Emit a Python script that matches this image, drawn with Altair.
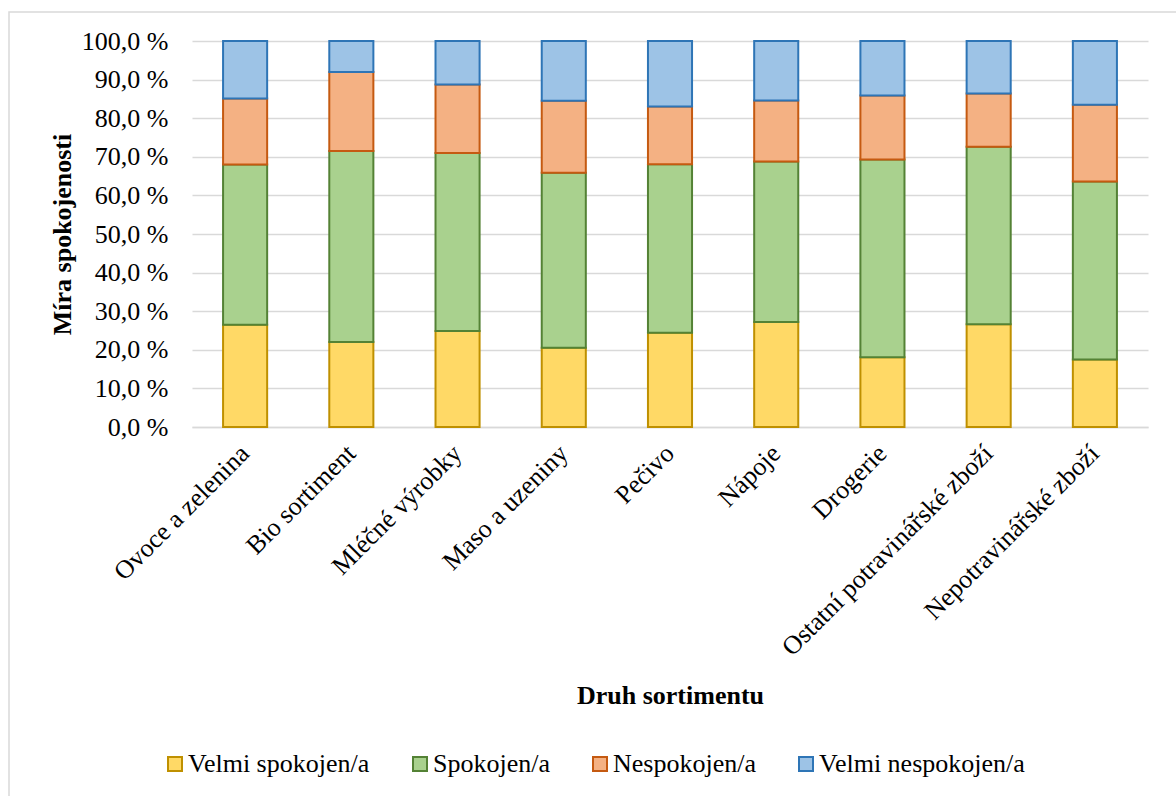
import altair as alt
import pandas as pd

categories = ["Ovoce a zelenina", "Bio sortiment", "Mléčné výrobky", "Maso a uzeniny",
              "Pečivo", "Nápoje", "Drogerie", "Ostatní potravinářské zboží",
              "Nepotravinářské zboží"]
series = ["Velmi spokojen/a", "Spokojen/a", "Nespokojen/a", "Velmi nespokojen/a"]
velmi_spokojen = [26.5, 22.0, 24.9, 20.5, 24.4, 27.2, 18.1, 26.6, 17.5]
spokojen = [41.5, 49.5, 46.1, 45.4, 43.7, 41.6, 51.2, 46.0, 46.1]
nespokojen = [17.1, 20.5, 17.7, 18.6, 14.9, 15.8, 16.6, 13.8, 19.9]
velmi_nespokojen = [14.9, 8.0, 11.3, 15.5, 17.0, 15.4, 14.1, 13.6, 16.5]

fills = ["#FFD966", "#A9D18E", "#F4B183", "#9DC3E6"]
strokes = ["#BF9000", "#548235", "#C55A11", "#2E75B6"]

rows = []
for si, (name, vals) in enumerate(zip(series, [velmi_spokojen, spokojen, nespokojen, velmi_nespokojen])):
    for c, v in zip(categories, vals):
        rows.append({"Druh": c, "Kat": name, "Hodnota": v, "idx": si})
df = pd.DataFrame(rows)

FONT = "'Liberation Serif', 'Times New Roman', 'DejaVu Serif', serif"
W, H = 956, 386

bars = alt.Chart(df).mark_bar(strokeWidth=2).encode(
    x=alt.X("Druh:N", sort=categories,
            scale=alt.Scale(paddingInner=0.585, paddingOuter=0.2925),
            axis=alt.Axis(title="Druh sortimentu", labelAngle=315, labelAlign="right",
                          labelBaseline="middle", labelPadding=22, ticks=False,
                          domainColor="#D9D9D9", domainWidth=1.5,
                          labelFont=FONT, labelFontSize=26, labelColor="black",
                          titleFont=FONT, titleFontSize=26, titleFontWeight="bold",
                          titleColor="black", titleY=268, titleBaseline="middle",
                          labelLimit=0)),
    y=alt.Y("Hodnota:Q", stack="normalize",
            scale=alt.Scale(domain=[0, 1]),
            axis=alt.Axis(title="Míra spokojenosti", values=[i / 10 for i in range(11)],
                          labelExpr="replace(format(datum.value*100, '.1f'), '.', ',') + ' %'",
                          ticks=False, domain=False, labelPadding=24,
                          gridColor="#D9D9D9", gridWidth=1.5,
                          labelFont=FONT, labelFontSize=26, labelColor="black",
                          titleFont=FONT, titleFontSize=26, titleFontWeight="bold",
                          titleColor="black", titleX=-130, titleY=193,
                          titleAngle=270, titleAlign="center", titleBaseline="middle")),
    fill=alt.Fill("Kat:N", sort=series, scale=alt.Scale(domain=series, range=fills),
                  legend=alt.Legend(title=None)),
    stroke=alt.Stroke("Kat:N", sort=series, scale=alt.Scale(domain=series, range=strokes),
                      legend=alt.Legend(title=None)),
    order=alt.Order("idx:Q", sort="ascending"),
)

border = alt.Chart(pd.DataFrame({"a": [0]})).mark_rect(
    filled=False, stroke="#D9D9D9", strokeWidth=1.5
).encode(
    x=alt.value(-183), x2=alt.value(W + 60), y=alt.value(-29), y2=alt.value(H + 400)
)

chart = alt.layer(border, bars).properties(
    width=W, height=H,
    autosize=alt.AutoSizeParams(type="none"),
    padding={"left": 192, "top": 41, "right": 28, "bottom": 369},
).configure_view(stroke=None).configure_legend(
    orient="none", legendX=-30, legendY=710, direction="horizontal",
    symbolType="square", symbolSize=196, symbolStrokeWidth=2,
    labelFont=FONT, labelFontSize=26, labelColor="black", labelOffset=0,
    columnPadding=37, labelLimit=0
)

chart.save("out.html", embed_options={"renderer": "svg", "actions": False})
